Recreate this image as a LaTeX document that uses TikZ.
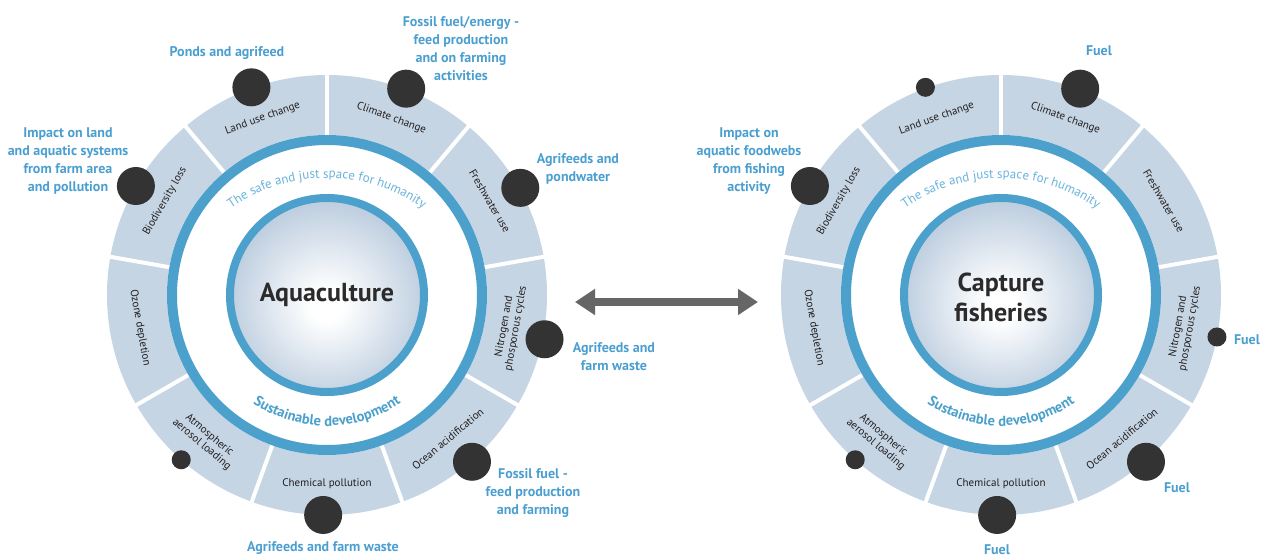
\documentclass[tikz,border=0pt]{standalone}
\usepackage{fontspec}
\setmainfont{PT Sans}
\usetikzlibrary{arrows.meta}
\usetikzlibrary{decorations.text}

\definecolor{segfill}{HTML}{C5D5E4}
\definecolor{ringblue}{HTML}{4BA0CC}
\definecolor{safeblue}{HTML}{6AB4DC}
\definecolor{labelblue}{HTML}{4A9FD0}
\definecolor{dotgrey}{HTML}{333333}
\definecolor{arrowgrey}{HTML}{666666}
\definecolor{segtext}{HTML}{231F20}
\definecolor{hubtext}{HTML}{2B2B2B}
\definecolor{hubedge}{HTML}{BFCFE0}
\pgfdeclareradialshading{hubglow}{\pgfpoint{0bp}{-3bp}}{color(0bp)=(white); color(4bp)=(white); color(25bp)=(hubedge); color(50bp)=(hubedge)}

\begin{document}
\begin{tikzpicture}[x=1pt,y=1pt,
    seglabel/.style={font=\fontsize{11}{12}\selectfont, text=segtext, align=center, inner sep=0pt},
    impact/.style={font=\bfseries\fontsize{14}{18}\selectfont, text=labelblue, align=center, inner sep=0pt},
    bigdot/.style={circle, fill=dotgrey, minimum size=38pt, inner sep=0pt},
    smalldot/.style={circle, fill=dotgrey, minimum size=19pt, inner sep=0pt},
    hub/.style={font=\bfseries\fontsize{26}{30}\selectfont, text=hubtext, align=center, inner sep=0pt}]
    \useasboundingbox (-327,-262) rectangle (937,295);
    % the two wheels
    \foreach \cx/\w in {0/aqua,674/fish} {
        \begin{scope}[shift={(\cx,0)}]
            \fill[segfill] (0,0) circle[radius=220];
            \foreach \a in {90,50,...,-230}
                \draw[white, line width=4pt] (\a:158) -- (\a:224);
            \fill[white] (0,0) circle[radius=160];
            \draw[ringblue, line width=10pt] (0,0) circle[radius=155];
            \shade[shading=hubglow] (0,0) circle[radius=97];
            \draw[ringblue, line width=8pt] (0,0) circle[radius=97];
            \path[decorate, decoration={text along path, text align=center, text color=safeblue,
                text={|\fontsize{13}{13}\selectfont|The safe and just space for humanity}}]
                (0,-48) ++(127:165) arc[start angle=127, end angle=53, radius=165];
            \path[decorate, decoration={text along path, text align=center, text color=ringblue,
                text={|\bfseries\fontsize{14.5}{14.5}\selectfont|Sustainable development}}]
                (-150:131) arc[start angle=-150, end angle=-30, radius=131];
            \node[seglabel, rotate=20] (\w-land) at (110:188) {Land use change};
            \node[seglabel, rotate=-20] (\w-climate) at (70:188) {Climate change};
            \node[seglabel, rotate=-60] (\w-fresh) at (30:188) {Freshwater use};
            \node[seglabel, rotate=80] (\w-nitro) at (-10:186) {Nitrogen and\\phosporous cycles};
            \node[seglabel, rotate=40] (\w-ocean) at (-50:188) {Ocean acidification};
            \node[seglabel] (\w-chem) at (-90:189) {Chemical pollution};
            \node[seglabel, rotate=-40] (\w-atmos) at (-130:189) {Atmospheric\\aerosol loading};
            \node[seglabel, rotate=-80] (\w-ozone) at (-170:190) {Ozone depletion};
            \node[seglabel, rotate=60] (\w-bio) at (150:187) {Biodiversity loss};
        \end{scope}
    }
    % centres
    \node[hub] (aqua-hub) at (0,0) {Aquaculture};
    \node[hub] (fish-hub) at (674,-2) {Capture\\fisheries};
    % aquaculture pressures
    \node[bigdot] (aqua-dland) at (110:221) {};
    \node[bigdot] (aqua-dclimate) at (69:221) {};
    \node[bigdot] (aqua-dfresh) at (29:221) {};
    \node[bigdot] (aqua-dnitro) at (-11.5:222) {};
    \node[bigdot] (aqua-docean) at (-49:221) {};
    \node[bigdot] (aqua-dchem) at (-91:220) {};
    \node[smalldot] (aqua-datmos) at (-131.5:220) {};
    \node[bigdot] (aqua-dbio) at (150.3:220) {};
    \node[impact] (aqua-tland) at (-100,242) {Ponds and agrifeed};
    \node[impact] (aqua-tclimate) at (134,246) {Fossil fuel/energy -\\feed production\\and on farming\\activities};
    \node[impact] (aqua-tfresh) at (251,126) {Agrifeeds and\\pondwater};
    \node[impact] (aqua-tnitro) at (287,-62) {Agrifeeds and\\farm waste};
    \node[impact] (aqua-tocean) at (206,-198) {Fossil fuel -\\feed production\\and farming};
    \node[impact] (aqua-tchem) at (-4,-253) {Agrifeeds and farm waste};
    \node[impact] (aqua-tbio) at (-259,134) {Impact on land\\and aquatic systems\\from farm area\\and pollution};
    % capture fisheries pressures
    \begin{scope}[shift={(674,0)}]
        \node[smalldot] (fish-dland) at (110:221) {};
        \node[bigdot] (fish-dclimate) at (69:221) {};
        \node[smalldot] (fish-dnitro) at (-11:220) {};
        \node[bigdot] (fish-docean) at (-49:221) {};
        \node[bigdot] (fish-dchem) at (-91:220) {};
        \node[smalldot] (fish-datmos) at (-131.5:220) {};
        \node[bigdot] (fish-dbio) at (150.3:220) {};
    \end{scope}
    \node[impact] (fish-tclimate) at (772,244) {Fuel};
    \node[impact] (fish-tnitro) at (920,-45) {Fuel};
    \node[impact] (fish-tocean) at (850,-193) {Fuel};
    \node[impact] (fish-tchem) at (670,-255) {Fuel};
    \node[impact] (fish-tbio) at (422,134) {Impact on\\aquatic foodwebs\\from fishing\\activity};
    % comparison arrow
    \coordinate (cmp-l) at (248,-7);
    \coordinate (cmp-r) at (431,-7);
    \draw[arrowgrey, line width=8pt, {Triangle[width=25pt,length=20pt]}-{Triangle[width=25pt,length=20pt]}] (cmp-l) -- (cmp-r);
\end{tikzpicture}
\end{document}
